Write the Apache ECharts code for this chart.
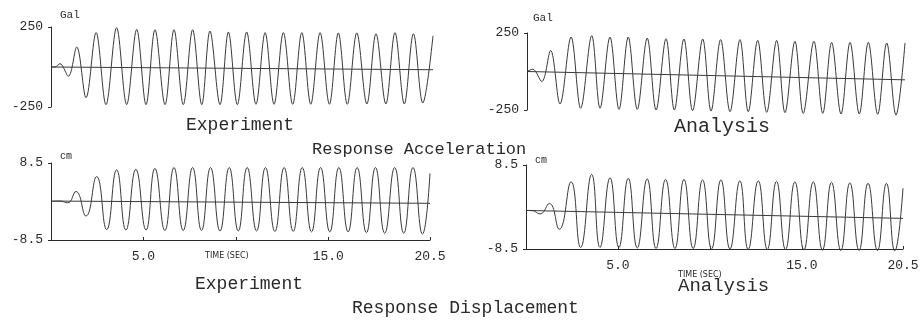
<!DOCTYPE html>
<html lang="en">
<head>
<meta charset="UTF-8">
<title>Response Acceleration / Displacement</title>
<script src="https://cdn.jsdelivr.net/npm/echarts@6/dist/echarts.min.js"></script>
<style>
  html, body { margin: 0; padding: 0; background: #fff; }
  #main { width: 923px; height: 322px; }
</style>
</head>
<body>
<div id="main"></div>
<script>
// peaks and troughs, time in sec
var accExpT = [0, 0.21, 0.48, 0.93, 1.38, 1.88, 2.42, 2.95, 3.52, 4.06, 4.60, 5.10, 5.58, 6.12, 6.60, 7.10, 7.60, 8.09, 8.53, 9.07, 9.52, 10.0, 10.50, 11.0, 11.49, 11.97, 12.47, 12.97, 13.46, 13.94, 14.44, 14.94, 15.42, 15.90, 16.41, 16.95, 17.44, 17.97, 18.46, 18.96, 19.45, 19.95, 20.5];
var accExpV = [0, 0, 21, -58, 125, -192, 215, -235, 246, -235, 235, -235, 233, -235, 233, -235, 233, -235, 225, -235, 219, -235, 219, -233, 215, -233, 215, -233, 215, -233, 215, -233, 213, -233, 213, -231, 208, -231, 215, -231, 208, -225, 195];

var accAnaT = [0, 0.31, 0.80, 1.28, 1.79, 2.39, 2.91, 3.51, 3.96, 4.50, 4.99, 5.49, 5.98, 6.52, 7.00, 7.54, 7.99, 8.51, 8.98, 9.53, 9.98, 10.50, 11.01, 11.55, 12.0, 12.51, 13.0, 13.54, 13.99, 14.53, 14.98, 15.56, 16.04, 16.52, 17.03, 17.52, 18.02, 18.51, 19.02, 19.51, 20.01, 20.5];
var accAnaV = [0, 15, -65, 137, -211, 224, -239, 233, -239, 224, -246, 224, -246, 217, -250, 213, -250, 211, -254, 211, -257, 207, -261, 207, -261, 202, -265, 202, -267, 196, -272, 196, -272, 189, -276, 189, -276, 189, -278, 185, -283, 185];

var dispExpT = [0, 0.49, 0.90, 1.35, 1.89, 2.47, 3.01, 3.55, 4.05, 4.59, 5.14, 5.62, 6.16, 6.65, 7.15, 7.66, 8.14, 8.63, 9.14, 9.64, 10.13, 10.61, 11.12, 11.60, 12.11, 12.61, 13.10, 13.59, 14.09, 14.58, 15.08, 15.57, 16.07, 16.56, 17.06, 17.55, 18.05, 18.59, 19.08, 19.58, 20.09, 20.5];
var dispExpV = [0, 0.1, -0.3, 2.2, -3.2, 5.5, -6.2, 7.0, -6.3, 7.1, -6.3, 7.3, -6.4, 7.5, -6.4, 7.5, -6.4, 7.5, -6.5, 7.5, -6.5, 7.5, -6.5, 7.5, -6.6, 7.5, -6.6, 7.5, -6.7, 7.5, -6.7, 7.5, -6.7, 7.5, -6.9, 7.5, -7.0, 7.5, -7.0, 7.5, -7.2, 6.2];

var dispAnaT = [0, 0.31, 0.76, 1.27, 1.81, 2.45, 2.97, 3.57, 4.02, 4.57, 5.05, 5.56, 6.05, 6.59, 7.07, 7.59, 8.10, 8.59, 9.09, 9.60, 10.09, 10.60, 11.09, 11.63, 12.08, 12.63, 13.12, 13.62, 14.11, 14.62, 15.11, 15.62, 16.12, 16.61, 17.12, 17.61, 18.11, 18.60, 19.11, 19.60, 20.05, 20.5];
var dispAnaV = [-0.7, -0.7, -1.4, 0.7, -4.5, 5.1, -8.2, 6.6, -8.2, 5.9, -8.2, 5.8, -8.3, 5.7, -8.4, 5.6, -8.4, 5.6, -8.4, 5.5, -8.5, 5.5, -8.5, 5.3, -8.6, 5.3, -8.6, 5.2, -8.6, 5.1, -8.7, 5.1, -8.7, 5.0, -8.8, 4.9, -8.8, 4.8, -8.8, 4.8, -8.9, 3.8];

// drift lines: value at start and at end of the record
var accExpBase = [0, -17];
var accAnaBase = [0, -54];
var dispExpBase = [0.1, -0.4];
var dispAnaBase = [-0.7, -2.3];

var accLimits = [-250, 250];
var dispLimits = [-8.5, 8.5];
var tEnd = 20.5;
var timeLabels = [5, 15, 20.5];
var timeTicks = [5, 10, 15, 20.5];

var mono = 'Liberation Mono';
var ink = '#2a2a2a';

function zip(t, v) {
    return t.map(function (x, i) { return [x, v[i]]; });
}

var grids = [
    { left: 51, top: 27, width: 382, height: 80 },
    { left: 527, top: 33, width: 378, height: 77 },
    { left: 51, top: 163, width: 379, height: 77 },
    { left: 526, top: 165, width: 377, height: 84 }
];

function xAxis(i, bottom) {
    return {
        type: 'value', gridIndex: i, min: 0, max: tEnd,
        axisLine: { show: bottom, onZero: false, lineStyle: { color: ink, width: 1 } },
        axisTick: { show: bottom, inside: true, length: 3, customValues: timeTicks, lineStyle: { color: ink } },
        axisLabel: {
            show: bottom, customValues: timeLabels, margin: bottom ? 10 : 8,
            formatter: function (v) { return v.toFixed(1); },
            fontFamily: mono, fontSize: 13, color: ink
        },
        splitLine: { show: false }
    };
}

function yAxis(i, lim, fmt) {
    return {
        type: 'value', gridIndex: i, min: lim[0], max: lim[1],
        axisLine: { show: true, onZero: false, lineStyle: { color: ink, width: 1 } },
        axisTick: { show: true, length: 3, customValues: lim, lineStyle: { color: ink } },
        axisLabel: {
            customValues: lim, margin: 8, formatter: fmt,
            fontFamily: mono, fontSize: 13, color: ink
        },
        splitLine: { show: false }
    };
}

function wave(i, t, v, smooth) {
    return {
        type: 'line', xAxisIndex: i, yAxisIndex: i, data: zip(t, v),
        smooth: smooth, showSymbol: false, clip: false, silent: true,
        lineStyle: { color: '#3a3a3a', width: 1 }
    };
}

function drift(i, b) {
    return {
        type: 'line', xAxisIndex: i, yAxisIndex: i, data: [[0, b[0]], [tEnd, b[1]]],
        showSymbol: false, silent: true,
        lineStyle: { color: '#3a3a3a', width: 1 }
    };
}

function txt(x, y, s, size, font, align) {
    return {
        type: 'text', left: x, top: y,
        style: { text: s, fill: ink, font: size + 'px "' + font + '"', textAlign: align || 'left' }
    };
}

var accFmt = function (v) { return String(v); };
var dispFmt = function (v) { return v.toFixed(1); };

var chart = echarts.init(document.getElementById('main'));
chart.setOption({
    animation: false,
    backgroundColor: '#fff',
    grid: grids,
    xAxis: [xAxis(0, false), xAxis(1, false), xAxis(2, true), xAxis(3, true)],
    yAxis: [yAxis(0, accLimits, accFmt), yAxis(1, accLimits, accFmt),
            yAxis(2, dispLimits, dispFmt), yAxis(3, dispLimits, dispFmt)],
    series: [
        wave(0, accExpT, accExpV, 0.35), drift(0, accExpBase),
        wave(1, accAnaT, accAnaV, 0.35), drift(1, accAnaBase),
        wave(2, dispExpT, dispExpV, 0.5), drift(2, dispExpBase),
        wave(3, dispAnaT, dispAnaV, 0.5), drift(3, dispAnaBase)
    ],
    graphic: [
        txt(60, 10, 'Gal', 11, mono),
        txt(533, 13, 'Gal', 11, mono),
        txt(60, 151, 'cm', 10, mono),
        txt(535, 155, 'cm', 10, mono),
        txt(186, 116, 'Experiment', 18, mono),
        txt(674, 117, 'Analysis', 20, mono),
        txt(312, 141, 'Response Acceleration', 17, mono),
        txt(195, 275, 'Experiment', 18, mono),
        txt(678, 276, 'Analysis', 19, mono),
        txt(352, 299, 'Response Displacement', 18, mono),
        txt(205, 252, 'TIME (SEC)', 8, 'DejaVu Sans'),
        txt(678, 271, 'TIME (SEC)', 8, 'DejaVu Sans')
    ]
});
</script>
</body>
</html>
